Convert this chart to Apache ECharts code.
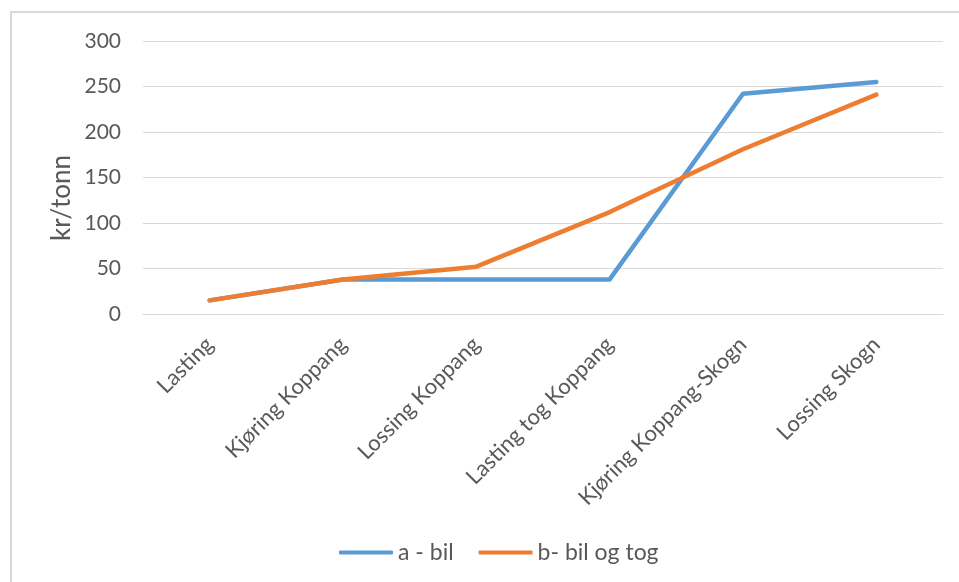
<!DOCTYPE html>
<html>
<head>
<meta charset="utf-8">
<script src="https://cdn.jsdelivr.net/npm/echarts@6/dist/echarts.min.js"></script>
<style>
  html, body { margin: 0; padding: 0; background: #fff; }
  #chart { width: 959px; height: 582px; }
</style>
</head>
<body>
<div id="chart"></div>
<script>
// Cost per tonne along each transport chain
const categories = ['Lasting', 'Kjøring Koppang', 'Lossing Koppang', 'Lasting tog Koppang', 'Kjøring Koppang-Skogn', 'Lossing Skogn'];
const seriesNames = ['a - bil', 'b- bil og tog'];
const bilValues = [15, 38, 38, 38, 242, 255];
const bilTogValues = [15, 38, 52, 112, 181, 241];
const yTicks = { min: 0, max: 300, interval: 50 };
const yAxisTitle = 'kr/tonn';

const textColor = '#595959';
const fontFamily = 'Lato, "Noto Sans", sans-serif';

const chart = echarts.init(document.getElementById('chart'));
chart.setOption({
  animation: false,
  backgroundColor: '#fff',
  textStyle: { fontFamily: fontFamily, color: textColor },
  graphic: [
    {
      // chart frame (top and left edges visible)
      type: 'rect',
      shape: { x: 11, y: 12, width: 1200, height: 1200 },
      style: { fill: 'none', stroke: '#d9d9d9', lineWidth: 2 },
      silent: true
    },
    {
      // value axis title
      type: 'text',
      x: 62,
      y: 198,
      rotation: Math.PI / 2,
      style: {
        text: yAxisTitle,
        fontSize: 26,
        fontFamily: fontFamily,
        fill: textColor,
        align: 'center',
        verticalAlign: 'middle'
      },
      silent: true
    }
  ],
  grid: { left: 143, right: 16, top: 41, bottom: 268, containLabel: false },
  legend: {
    bottom: 13,
    left: 334,
    itemWidth: 54,
    itemHeight: 4,
    itemGap: 25,
    textStyle: { fontSize: 23, color: textColor, fontFamily: fontFamily },
    data: seriesNames.map(n => ({ name: n, icon: 'roundRect' }))
  },
  xAxis: {
    type: 'category',
    data: categories,
    boundaryGap: true,
    axisLine: { show: true, lineStyle: { color: '#d9d9d9', width: 1 } },
    axisTick: { show: false },
    axisLabel: {
      rotate: 45,
      margin: 27,
      interval: 0,
      fontSize: 22,
      color: textColor,
      fontFamily: fontFamily
    }
  },
  yAxis: {
    type: 'value',
    min: yTicks.min,
    max: yTicks.max,
    interval: yTicks.interval,
    axisLine: { show: false },
    axisTick: { show: false },
    splitLine: { lineStyle: { color: '#d9d9d9', width: 1 } },
    axisLabel: { fontSize: 21, margin: 22, color: textColor, fontFamily: fontFamily }
  },
  series: [
    {
      name: seriesNames[0],
      type: 'line',
      data: bilValues,
      symbol: 'none',
      color: '#5b9bd5',
      lineStyle: { width: 4.5, color: '#5b9bd5', cap: 'round', join: 'round' }
    },
    {
      name: seriesNames[1],
      type: 'line',
      data: bilTogValues,
      symbol: 'none',
      color: '#ed7d31',
      lineStyle: { width: 4.5, color: '#ed7d31', cap: 'round', join: 'round' }
    }
  ]
});
</script>
</body>
</html>
